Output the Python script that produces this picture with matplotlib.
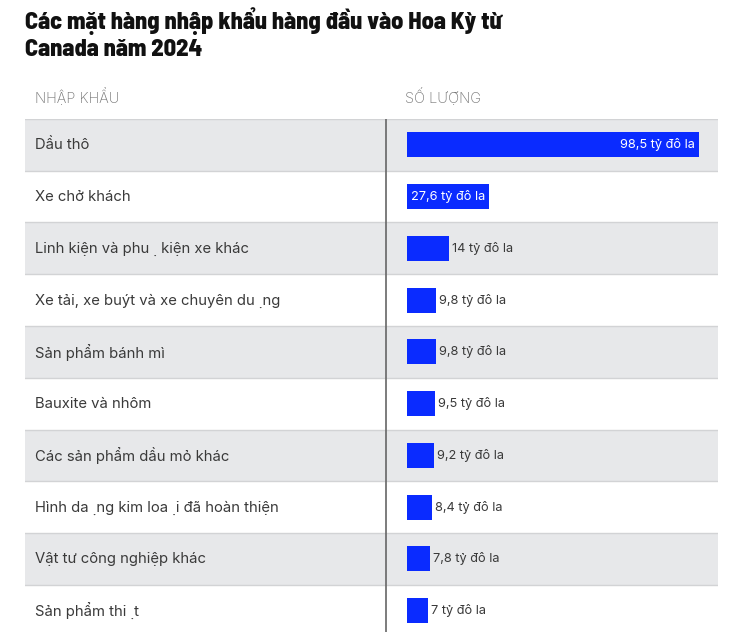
import matplotlib
matplotlib.use("Agg")
import matplotlib.pyplot as plt
from matplotlib.transforms import blended_transform_factory, offset_copy

title = "Các mặt hàng nhập khẩu hàng đầu vào Hoa Kỳ từ\nCanada năm 2024"
header_left = "NHẬP KHẨU"
header_right = "SỐ LƯỢNG"
categories = [
    "Dầu thô",
    "Xe chở khách",
    "Linh kiện và phu \u0323 kiện xe khác",
    "Xe tải, xe buýt và xe chuyên du \u0323ng",
    "Sản phẩm bánh mì",
    "Bauxite và nhôm",
    "Các sản phẩm dầu mỏ khác",
    "Hình da \u0323ng kim loa \u0323i đã hoàn thiện",
    "Vật tư công nghiệp khác",
    "Sản phẩm thi \u0323t",
]
values = [98.5, 27.6, 14, 9.8, 9.8, 9.5, 9.2, 8.4, 7.8, 7]
value_labels = ["98,5 tỷ đô la", "27,6 tỷ đô la", "14 tỷ đô la", "9,8 tỷ đô la",
                "9,8 tỷ đô la", "9,5 tỷ đô la", "9,2 tỷ đô la", "8,4 tỷ đô la",
                "7,8 tỷ đô la", "7 tỷ đô la"]

W, H = 729, 632
fig = plt.figure(figsize=(W / 100, H / 100), dpi=100)
fig.patch.set_facecolor("white")

BODY = ["Inter", "DejaVu Sans"]
TITLE = ["Barlow Semi Condensed", "Roboto Condensed", "DejaVu Sans"]

# table axes (pixel geometry)
left_px, right_px = 25, 718
top_px, row_h = 119, 51.75
n = len(categories)
bottom_px = top_px + n * row_h
ax = fig.add_axes([left_px / W, 1 - bottom_px / H, (right_px - left_px) / W, (bottom_px - top_px) / H])
ax.set_axis_off()

bar_start_px = 407
scale = (699 - bar_start_px) / max(values)  # px per unit
ax.set_xlim(-(bar_start_px - left_px) / scale, (right_px - bar_start_px) / scale)
ax.set_ylim(n, 0)

blue = "#0a2bff"
gray_row = "#e7e8ea"
sep = "#d2d3d5"
txt = "#3a3a3a"

for i in range(n):
    if i % 2 == 0:
        ax.axhspan(i, i + 1, color=gray_row, lw=0, zorder=0)
    ax.axhline(i, color=sep, lw=1, zorder=1)

ax.axvline((386 - bar_start_px) / scale, color="#666666", lw=1.2, zorder=2)

ys = [i + 0.5 for i in range(n)]
ax.barh(ys, values, height=0.48, left=0, color=blue, zorder=3)

tr_lab = blended_transform_factory(ax.transAxes, ax.transData)
for y, c in zip(ys, categories):
    ax.text((35 - left_px) / (right_px - left_px), y + 0.01, c, transform=tr_lab,
            ha="left", va="center", fontsize=10.7, color=txt, family=BODY)

for y, v, lab in zip(ys, values, value_labels):
    if v > 20:
        t = offset_copy(ax.transData, fig=fig, x=-4, y=0, units="dots")
        ax.text(v, y, lab, transform=t, ha="right", va="center", fontsize=9.2,
                color="white", family=BODY, zorder=4)
    else:
        t = offset_copy(ax.transData, fig=fig, x=3, y=0, units="dots")
        ax.text(v, y, lab, transform=t, ha="left", va="center", fontsize=9.2,
                color=txt, family=BODY, zorder=4)

# title and headers
fig.text(25 / W, 1 - 7 / H, title, ha="left", va="top", fontsize=17.5,
         fontweight=800, color="#111111", family=TITLE, linespacing=1.22)
fig.text(35 / W, 1 - 97 / H, header_left, ha="left", va="center", fontsize=10.5,
         color="#777777", family=BODY, fontweight="light")
fig.text(405 / W, 1 - 97 / H, header_right, ha="left", va="center", fontsize=10.5,
         color="#777777", family=BODY, fontweight="light")

fig.savefig("out.png", dpi=100)
